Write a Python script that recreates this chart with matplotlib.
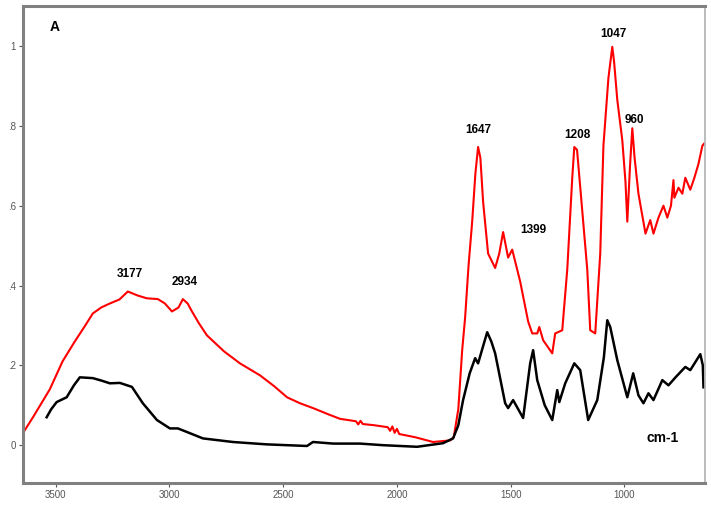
import numpy as np
import matplotlib.pyplot as plt
from matplotlib.ticker import FuncFormatter

# red spectrum (wavenumber, absorbance)
red_wn = [3650, 3600, 3526, 3470, 3416, 3370, 3337, 3300, 3262, 3220, 3183, 3140,
          3100, 3051, 3020, 2989, 2960, 2941, 2920, 2901, 2870, 2835, 2760, 2690,
          2602, 2540, 2483, 2426, 2369, 2300, 2250, 2180, 2170, 2160, 2150, 2100,
          2040, 2030, 2020, 2010, 2000, 1990, 1920, 1841, 1766, 1750, 1730, 1713,
          1700, 1685, 1669, 1655, 1643, 1633, 1621, 1599, 1568, 1550, 1533, 1511,
          1493, 1458, 1423, 1405, 1383, 1374, 1357, 1317, 1304, 1273, 1251, 1229,
          1220, 1208, 1194, 1163, 1150, 1128, 1106, 1092, 1070, 1053, 1045, 1031,
          1009, 995, 987, 975, 965, 955, 938, 907, 886, 872, 850, 828, 811, 795,
          784, 780, 762, 745, 732, 710, 692, 674, 657, 650]
red_abs = [0.025, 0.07, 0.14, 0.21, 0.26, 0.30, 0.33, 0.345, 0.355, 0.365, 0.385, 0.375,
           0.368, 0.366, 0.355, 0.335, 0.345, 0.366, 0.355, 0.335, 0.305, 0.275, 0.235, 0.205,
           0.175, 0.148, 0.12, 0.105, 0.093, 0.077, 0.066, 0.06, 0.052, 0.061, 0.053, 0.05,
           0.045, 0.036, 0.047, 0.031, 0.041, 0.028, 0.02, 0.008, 0.012, 0.02, 0.09, 0.238,
           0.32, 0.45, 0.56, 0.68, 0.747, 0.72, 0.61, 0.48, 0.444, 0.48, 0.534, 0.47,
           0.49, 0.41, 0.31, 0.28, 0.28, 0.296, 0.263, 0.23, 0.28, 0.288, 0.44, 0.67,
           0.747, 0.74, 0.647, 0.44, 0.288, 0.28, 0.48, 0.75,
           0.92, 0.998, 0.96, 0.865, 0.764, 0.66, 0.56, 0.70, 0.794, 0.72, 0.63, 0.53,
           0.564, 0.53, 0.57, 0.60, 0.57, 0.60, 0.664, 0.62, 0.645, 0.63, 0.67, 0.64,
           0.67, 0.705, 0.75, 0.755]

# black spectrum
blk_wn = [3540, 3520, 3496, 3452, 3420, 3394, 3337, 3300, 3262, 3218, 3165, 3117,
          3055, 2998, 2963, 2923, 2853, 2721, 2571, 2395, 2369, 2280, 2162, 2061,
          1911, 1797, 1753, 1730, 1709, 1680, 1656, 1643, 1620, 1603, 1585, 1568,
          1524, 1511, 1489, 1445, 1414, 1401, 1383, 1350, 1317, 1295, 1286, 1260,
          1220, 1194, 1159, 1119, 1090, 1075, 1062, 1031, 987, 961, 938, 916, 894,
          872, 833, 806, 775, 732, 710, 666, 655, 652]
blk_abs = [0.07, 0.09, 0.108, 0.12, 0.15, 0.17, 0.168, 0.162, 0.155, 0.156, 0.146, 0.105,
           0.063, 0.042, 0.042, 0.033, 0.017, 0.008, 0.002, -0.002, 0.008, 0.004, 0.004, 0.0,
           -0.004, 0.005, 0.017, 0.05, 0.113, 0.18, 0.218, 0.205, 0.25, 0.283, 0.26, 0.23,
           0.105, 0.093, 0.113, 0.068, 0.205, 0.238, 0.163, 0.10, 0.063, 0.138, 0.108, 0.155,
           0.205, 0.188, 0.063, 0.113, 0.22, 0.313, 0.296, 0.213, 0.12, 0.18, 0.125, 0.105, 0.13,
           0.113, 0.163, 0.15, 0.17, 0.196, 0.188, 0.228, 0.2, 0.145]

peak_labels = ["3177", "2934", "1647", "1399", "1208", "1047", "960"]
peak_x = [3174, 2932, 1643, 1401, 1207, 1048, 956]
peak_y = [0.43, 0.408, 0.79, 0.54, 0.777, 1.03, 0.815]

plt.rcParams["font.family"] = ["Liberation Sans", "DejaVu Sans"]

fig = plt.figure(figsize=(7.11, 5.08), dpi=100)
ax = fig.add_axes([0.032, 0.049, 0.960, 0.939])

ax.plot(red_wn, red_abs, color="#ff0000", linewidth=1.5)
ax.plot(blk_wn, blk_abs, color="black", linewidth=1.8)

for lab, x, y in zip(peak_labels, peak_x, peak_y):
    ax.text(x, y, lab, ha="center", va="center", fontsize=8.5, fontweight="bold")

ax.text(3504, 1.047, "A", ha="center", va="center", fontsize=10, fontweight="bold")
ax.text(833, 0.017, "cm-1", ha="center", va="center", fontsize=10, fontweight="bold")

ax.set_xlim(3645, 644)
ax.set_ylim(-0.095, 1.10)
ax.set_xticks([3500, 3000, 2500, 2000, 1500, 1000])
ax.set_yticks([0, 0.2, 0.4, 0.6, 0.8, 1.0])


def fmt(v, pos):
    if abs(v) < 1e-9:
        return "0"
    if abs(v - 1) < 1e-9:
        return "1"
    return ("%.1f" % v).lstrip("0")


ax.yaxis.set_major_formatter(FuncFormatter(fmt))
ax.tick_params(labelsize=7, colors="#555555", length=3, width=0.8, pad=2)

for side in ["left", "bottom", "top"]:
    ax.spines[side].set_color("#808080")
    ax.spines[side].set_linewidth(2.2)
ax.spines["right"].set_color("#b0b0b0")
ax.spines["right"].set_linewidth(1.2)

fig.savefig("out.png", dpi=100)
